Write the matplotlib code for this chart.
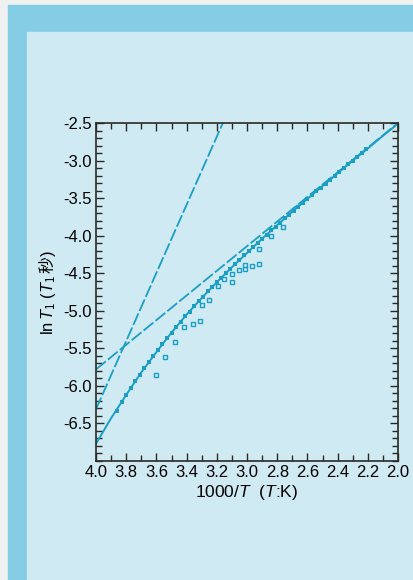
import matplotlib.pyplot as plt
from matplotlib.patches import Rectangle
from matplotlib.ticker import MultipleLocator
import numpy as np

plt.rcParams['font.family'] = ['Liberation Sans', 'Noto Sans CJK JP', 'DejaVu Sans']
plt.rcParams['mathtext.fontset'] = 'custom'
plt.rcParams['mathtext.rm'] = 'Noto Sans CJK JP'
plt.rcParams['mathtext.it'] = 'Liberation Sans:italic'
plt.rcParams['mathtext.sf'] = 'Liberation Sans'

# fitted lines
steep_x = [4.0, 3.16]
steep_y = [-6.31, -2.5]
shallow_x = [4.0, 2.0]
shallow_y = [-5.78, -2.5]

# solid curve through the data
curve_x = [4.0, 3.95, 3.9, 3.8, 3.7, 3.6, 3.5, 3.4, 3.3, 3.2, 3.1, 3.0,
           2.9, 2.8, 2.7, 2.6, 2.5, 2.4, 2.3, 2.2, 2.1, 2.0]
curve_y = [-6.77, -6.60, -6.43, -6.12, -5.82, -5.55, -5.29, -5.05, -4.83,
           -4.62, -4.42, -4.23, -4.04, -3.86, -3.68, -3.51, -3.34, -3.17,
           -3.00, -2.84, -2.67, -2.51]

# measured points (filled)
data_x = [3.86, 3.83, 3.80, 3.77, 3.74, 3.71, 3.68, 3.65, 3.62, 3.59, 3.56,
          3.53, 3.50, 3.47, 3.44, 3.41, 3.38, 3.35, 3.32, 3.29, 3.26, 3.23,
          3.20, 3.17, 3.14, 3.11, 3.08, 3.05, 3.02, 2.99, 2.96, 2.93, 2.90,
          2.87, 2.84, 2.81, 2.78, 2.75, 2.72, 2.69, 2.66, 2.63, 2.60, 2.57,
          2.54, 2.51, 2.48, 2.45, 2.42, 2.39, 2.36, 2.33, 2.30, 2.27, 2.24,
          2.21]
data_y = [-6.33, -6.21, -6.12, -6.03, -5.94, -5.85, -5.76, -5.68, -5.60,
          -5.52, -5.44, -5.36, -5.29, -5.22, -5.15, -5.07, -5.01, -4.94,
          -4.87, -4.81, -4.74, -4.68, -4.62, -4.56, -4.50, -4.44, -4.38,
          -4.32, -4.26, -4.21, -4.15, -4.10, -4.04, -3.99, -3.93, -3.88,
          -3.83, -3.77, -3.72, -3.67, -3.62, -3.56, -3.51, -3.46, -3.41,
          -3.36, -3.31, -3.26, -3.21, -3.15, -3.10, -3.05, -3.00, -2.95,
          -2.90, -2.85]

# scattered points (open squares)
odd_x = [3.60, 3.54, 3.48, 3.42, 3.36, 3.31, 3.30, 3.25, 3.19, 3.15, 3.10,
         3.10, 3.05, 3.01, 3.01, 2.97, 2.92, 2.92, 2.84, 2.76]
odd_y = [-5.85, -5.61, -5.42, -5.22, -5.17, -5.14, -4.92, -4.86, -4.67,
         -4.58, -4.62, -4.51, -4.46, -4.44, -4.39, -4.40, -4.38, -4.18,
         -4.01, -3.89]

col = '#1a9ec6'
W, H = 413, 580
fig = plt.figure(figsize=(W / 100, H / 100), dpi=100)
fig.patch.set_facecolor('#eef1ef')
fig.patches.append(Rectangle((8 / W, 0), 1, 1 - 5 / H, transform=fig.transFigure,
                             color='#84cde5', zorder=-2))
fig.patches.append(Rectangle((27 / W, 0), 1, 1 - 32 / H, transform=fig.transFigure,
                             color='#d0eaf4', zorder=-1))

ax = fig.add_axes([96 / W, 1 - 461 / H, 302 / W, 338 / H])
ax.set_facecolor('none')

ax.plot(steep_x, steep_y, color=col, lw=1.3, dashes=(7, 1.5))
ax.plot(shallow_x, shallow_y, color=col, lw=1.3, dashes=(7, 1.5))
ax.plot(curve_x, curve_y, color=col, lw=1.4)
ax.plot(data_x, data_y, 's', color=col, ms=3.2, mew=0)
ax.plot(odd_x, odd_y, 's', mfc='none', mec=col, ms=3.4, mew=1)

ax.set_xlim(4.0, 2.0)
ax.set_ylim(-7.0, -2.5)
ax.xaxis.set_major_locator(MultipleLocator(0.2))
ax.xaxis.set_minor_locator(MultipleLocator(0.1))
ax.yaxis.set_minor_locator(MultipleLocator(0.1))
ax.set_yticks(np.arange(-6.5, -2.4, 0.5))
ax.set_xticklabels(['%.1f' % v for v in ax.get_xticks()])
ax.set_yticklabels(['%.1f' % v for v in ax.get_yticks()])
ax.tick_params(which='both', direction='in', top=True, right=True,
               color='#2a2a22', labelsize=12, pad=3)
ax.tick_params(which='major', length=6, width=1)
ax.tick_params(which='minor', length=4, width=1)
for s in ax.spines.values():
    s.set_color('#2a2a22')
    s.set_linewidth(1.2)

ax.set_xlabel('1000/$\\it{T}$  ($\\it{T}$:K)', fontsize=12.5, labelpad=2)
ax.set_ylabel('ln$\\,\\it{T}_1$ ($\\it{T}_1\\,\\mathrm{秒}$)', fontsize=12, labelpad=4)

fig.savefig('out.png', dpi=100, facecolor=fig.get_facecolor())
